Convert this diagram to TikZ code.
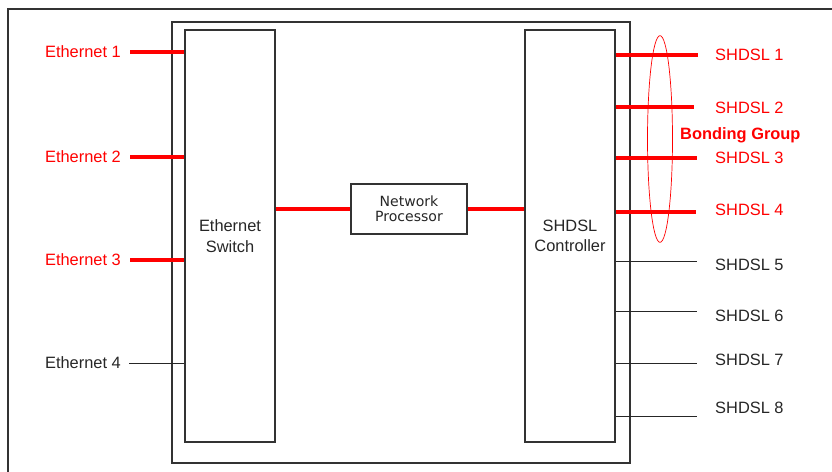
\documentclass[tikz,border=0pt]{standalone}
\usepackage{fontspec}
\setmainfont{Liberation Sans}
\newfontfamily\npfont{DejaVu Sans}
\usetikzlibrary{positioning,calc,shapes.geometric}
\tikzset{
  unitbox/.style={draw=black!80, line width=1pt, align=center, inner sep=0pt,
    font=\fontsize{14}{17.5}\selectfont, text=black!85},
  framelines/.style={draw=black!80, line width=1pt},
  portlabel/.style={font=\fontsize{14}{17}\selectfont, inner sep=0pt, text=black!85},
  redport/.style={portlabel, text=red},
  redwire/.style={draw=red, line width=3pt},
  blackwire/.style={draw=black!85, line width=0.85pt},
}

\begin{document}
\begin{tikzpicture}[x=0.3mm, y=-0.3mm]
  \useasboundingbox (0,0) rectangle (832,472);
  % page frame and unit housing
  \draw[framelines] (8,472) -- (8,9) -- (832,9);
  \draw[framelines] (172,22) rectangle (630,463);
  \node[unitbox, minimum width=27mm, minimum height=123.6mm] (switch) at (230,236) {Ethernet\\Switch};
  \node[unitbox, minimum width=27mm, minimum height=123.6mm] (ctrl) at (570,236) {SHDSL\\Controller};
  \node[unitbox, minimum width=34.8mm, minimum height=15mm,
    font=\npfont\fontsize{12}{12.8}\selectfont] (np) at (409,209) {Network\\Processor};
  \draw[redwire, line width=2.6pt] (switch.east |- np) -- (np.west);
  \draw[redwire, line width=3.6pt] (np.east) -- (ctrl.west |- np);
  % ethernet ports
  \node[redport, anchor=east] (eth1) at (121,52) {Ethernet 1};
  \node[redport, anchor=east] (eth2) at (121,157) {Ethernet 2};
  \node[redport, anchor=east] (eth3) at (121,260) {Ethernet 3};
  \node[portlabel, anchor=east] (eth4) at (121,363) {Ethernet 4};
  \draw[redwire, shorten <=2.7mm] (eth1.east) -- (eth1.east -| switch.west);
  \draw[redwire, shorten <=2.7mm] (eth2.east) -- (eth2.east -| switch.west);
  \draw[redwire, shorten <=2.7mm] (eth3.east) -- (eth3.east -| switch.west);
  \draw[blackwire, shorten <=2.4mm] (eth4.east) -- (eth4.east -| switch.west);
  % shdsl ports
  \node[redport, anchor=west] (sh1) at (715,55) {SHDSL 1};
  \node[redport, anchor=west] (sh2) at (715,108) {SHDSL 2};
  \node[redport, anchor=west] (sh3) at (715,158) {SHDSL 3};
  \node[redport, anchor=west] (sh4) at (715,210) {SHDSL 4};
  \node[portlabel, anchor=west] (sh5) at (715,265) {SHDSL 5};
  \node[portlabel, anchor=west] (sh6) at (715,316) {SHDSL 6};
  \node[portlabel, anchor=west] (sh7) at (715,360) {SHDSL 7};
  \node[portlabel, anchor=west] (sh8) at (715,408) {SHDSL 8};
  \coordinate (w1) at (698,55);
  \coordinate (w2) at (694,107);
  \coordinate (w3) at (697,158);
  \coordinate (w4) at (696,212);
  \coordinate (w5) at (697,261);
  \coordinate (w6) at (697,311);
  \coordinate (w7) at (697,363);
  \coordinate (w8) at (697,416);
  \draw[redwire, line width=4.2pt] (ctrl.east |- w1) -- (w1);
  \draw[redwire, line width=2.9pt] (ctrl.east |- w2) -- (w2);
  \draw[redwire, line width=3.9pt] (ctrl.east |- w3) -- (w3);
  \draw[redwire, line width=3.2pt] (ctrl.east |- w4) -- (w4);
  \draw[blackwire] (ctrl.east |- w5) -- (w5);
  \draw[blackwire] (ctrl.east |- w6) -- (w6);
  \draw[blackwire] (ctrl.east |- w7) -- (w7);
  \draw[blackwire] (ctrl.east |- w8) -- (w8);
  % bonding group
  \node[draw=red, ellipse, line width=0.6pt, inner sep=0pt,
    minimum width=7.5mm, minimum height=62mm] (bond) at (660,139) {};
  \node[redport, font=\bfseries\fontsize{14}{17}\selectfont, anchor=west] (bondlbl) at (680,135) {Bonding Group};
\end{tikzpicture}
\end{document}
